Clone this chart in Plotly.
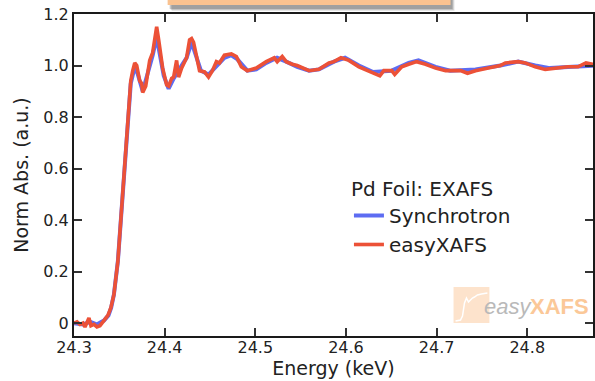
import plotly.graph_objects as go

# Pd foil EXAFS spectra: energy (keV) and normalized absorption
sync_energy = [24.300, 24.310, 24.318, 24.325, 24.333, 24.338, 24.341, 24.344, 24.3484,
               24.3538, 24.3604, 24.3626, 24.3670, 24.3700, 24.3758, 24.3800, 24.3868,
               24.3912, 24.3945, 24.3990, 24.4044, 24.4100, 24.4187, 24.4242, 24.4297,
               24.4352, 24.4400, 24.4484, 24.4571, 24.4659, 24.4736, 24.4800, 24.4912,
               24.5011, 24.5121, 24.5240, 24.5341, 24.5462, 24.5593, 24.5703, 24.5868,
               24.5990, 24.6143, 24.6300, 24.6505, 24.6692, 24.6800, 24.6989, 24.7150,
               24.7429, 24.7703, 24.7901, 24.8088, 24.8250, 24.8500, 24.8725, 24.9000]
sync_abs = [0.0, -0.005, 0.005, -0.005, 0.01, 0.03, 0.06, 0.11, 0.24,
            0.50, 0.80, 0.93, 0.995, 0.97, 0.90, 0.95, 1.04,
            1.11, 1.05, 0.96, 0.91, 0.95, 1.00, 1.03, 1.09,
            1.03, 0.98, 0.965, 0.995, 1.03, 1.04, 1.025, 0.98,
            0.985, 1.01, 1.03, 1.015, 0.995, 0.98, 0.985, 1.015,
            1.03, 1.0, 0.975, 0.98, 1.01, 1.02, 0.995, 0.98,
            0.985, 1.0, 1.015, 1.0, 0.99, 0.995, 1.0, 1.005]

easy_energy = [24.3000, 24.3033, 24.3066, 24.3099, 24.3121, 24.3143, 24.3165, 24.3187,
               24.3220, 24.3253, 24.3286, 24.3330, 24.3374, 24.3407, 24.3440, 24.3484,
               24.3538, 24.3604, 24.3626, 24.3648, 24.3670, 24.3692, 24.3725, 24.3747,
               24.3758, 24.3791, 24.3835, 24.3868, 24.3901, 24.3912, 24.3934, 24.3945,
               24.3978, 24.4022, 24.4044, 24.4077, 24.4099, 24.4132, 24.4154, 24.4187,
               24.4242, 24.4275, 24.4297, 24.4319, 24.4352, 24.4385, 24.4440, 24.4484,
               24.4527, 24.4571, 24.4604, 24.4659, 24.4736, 24.4791, 24.4846, 24.4912,
               24.5011, 24.5121, 24.5209, 24.5242, 24.5297, 24.5341, 24.5407, 24.5462,
               24.5593, 24.5703, 24.5813, 24.5868, 24.5945, 24.6033, 24.6143, 24.6253,
               24.6374, 24.6418, 24.6505, 24.6538, 24.6615, 24.6692, 24.6780, 24.6879,
               24.6989, 24.7099, 24.7264, 24.7341, 24.7429, 24.7571, 24.7703, 24.7758,
               24.7901, 24.7978, 24.8088, 24.8198, 24.8308, 24.8451, 24.8560, 24.8648,
               24.8725, 24.9000]
easy_abs = [0.0, 0.005, -0.005, 0.0, -0.015, 0.0, 0.02, -0.01,
            -0.005, -0.015, -0.01, 0.01, 0.03, 0.06, 0.11, 0.24,
            0.50, 0.80, 0.94, 0.98, 1.01, 1.00, 0.94, 0.93,
            0.895, 0.92, 1.02, 1.05, 1.12, 1.15, 1.10, 1.07,
            0.99, 0.925, 0.92, 0.95, 0.955, 1.02, 0.955, 0.99,
            1.03, 1.10, 1.105, 1.09, 1.035, 0.98, 0.975, 0.955,
            0.98, 1.015, 1.01, 1.04, 1.045, 1.035, 0.995, 0.98,
            0.99, 1.015, 1.03, 1.015, 1.035, 1.015, 1.005, 1.0,
            0.98, 0.985, 1.01, 1.015, 1.03, 1.02, 0.995, 0.98,
            0.96, 0.98, 0.98, 0.965, 0.995, 1.005, 1.015, 1.005,
            0.99, 0.98, 0.98, 0.97, 0.98, 0.99, 1.0, 1.01,
            1.015, 1.01, 0.995, 0.985, 0.99, 0.995, 0.995, 1.01,
            1.005, 1.005]

x_ticks = [24.3, 24.4, 24.5, 24.6, 24.7, 24.8]
x_ticklabels = ["24.3", "24.4", "24.5", "24.6", "24.7", "24.8"]
y_ticks = [0, 0.2, 0.4, 0.6, 0.8, 1.0, 1.2]
y_ticklabels = ["0", "0.2", "0.4", "0.6", "0.8", "1.0", "1.2"]

BLUE = "#5d6cf2"
RED = "#ec5137"
FONT = "DejaVu Sans"

fig = go.Figure()
fig.add_trace(go.Scatter(x=sync_energy, y=sync_abs, mode="lines", name="Synchrotron",
                         line=dict(color=BLUE, width=4)))
fig.add_trace(go.Scatter(x=easy_energy, y=easy_abs, mode="lines", name="easyXAFS",
                         line=dict(color=RED, width=3.6)))

W, H = 595, 381
ML, MT, MB, MR = 74, 14, 45, 0
PW, PH = W - ML - MR, H - MT - MB


def px(x):
    return (x - ML) / PW


def py(y):
    return (H - MB - y) / PH


shapes = []
# callout box peeking in at the top, with a soft shadow
for i, a in enumerate([0.10, 0.14, 0.18]):
    d = 3 - i
    shapes.append(dict(type="rect", xref="paper", yref="paper", layer="above",
                       x0=px(169 + d), x1=px(452 + d + 1), y0=py(5 + d + 3), y1=py(-2),
                       line=dict(width=0), fillcolor=f"rgba(0,0,0,{a})"))
shapes.append(dict(type="rect", xref="paper", yref="paper", layer="above",
                   x0=px(168), x1=px(452), y0=py(5), y1=py(-2),
                   line=dict(width=0), fillcolor="#fac290"))

# watermark logo: pale square with a white edge curve
shapes.append(dict(type="rect", xref="paper", yref="paper", layer="below",
                   x0=px(455), x1=px(491), y0=py(323), y1=py(287),
                   line=dict(width=0), fillcolor="#fde3cc"))
curve = [(457, 321), (462, 320), (464, 316), (466, 303), (468, 298), (470, 302),
         (472, 300), (474, 298), (476, 297), (479, 295), (483, 294), (489, 293)]
path = "M " + " L ".join(f"{px(a):.5f},{py(b):.5f}" for a, b in curve)
shapes.append(dict(type="path", xref="paper", yref="paper", layer="below", path=path,
                   line=dict(color="white", width=1.5)))

annotations = [
    dict(text="<i>easy</i>", x=px(536), y=py(306), xref="paper", yref="paper",
         xanchor="right", yanchor="middle", showarrow=False,
         font=dict(family="Liberation Sans", size=22, color="#b9b9b9")),
    dict(text="<b>XAFS</b>", x=px(530), y=py(306), xref="paper", yref="paper",
         xanchor="left", yanchor="middle", showarrow=False,
         font=dict(family="Liberation Sans", size=22, color="#fbc898")),
]

axis_common = dict(showline=True, linecolor="#1a1a1a", linewidth=2, mirror="ticks",
                   ticks="inside", ticklen=8, tickwidth=1.5, tickcolor="#333",
                   showgrid=False, zeroline=False,
                   tickfont=dict(family=FONT, size=16, color="#222"))

fig.update_layout(
    width=W, height=H,
    margin=dict(l=ML, r=MR, t=MT, b=MB, pad=0),
    plot_bgcolor="white", paper_bgcolor="white",
    font=dict(family=FONT, color="#222"),
    showlegend=True,
    legend=dict(x=px(350), y=py(170), xanchor="left", yanchor="top",
                bgcolor="rgba(0,0,0,0)", borderwidth=0,
                title=dict(text="Pd Foil: EXAFS", font=dict(family=FONT, size=20, color="#222")),
                font=dict(family=FONT, size=20, color="#222")),
    xaxis=dict(range=[24.3, 24.3 + (W - ML) / 910], tickvals=x_ticks, ticktext=x_ticklabels,
               ticklabelstandoff=-4,
               title=dict(text="Energy (keV)", font=dict(family=FONT, size=19, color="#222"),
                          standoff=0),
               **axis_common),
    yaxis=dict(range=[-0.05, 1.2], tickvals=y_ticks, ticktext=y_ticklabels,
               title=dict(text="Norm Abs. (a.u.)", font=dict(family=FONT, size=19, color="#222"),
                          standoff=10),
               **axis_common),
    shapes=shapes,
    annotations=annotations,
)

fig.write_html("out.html")
